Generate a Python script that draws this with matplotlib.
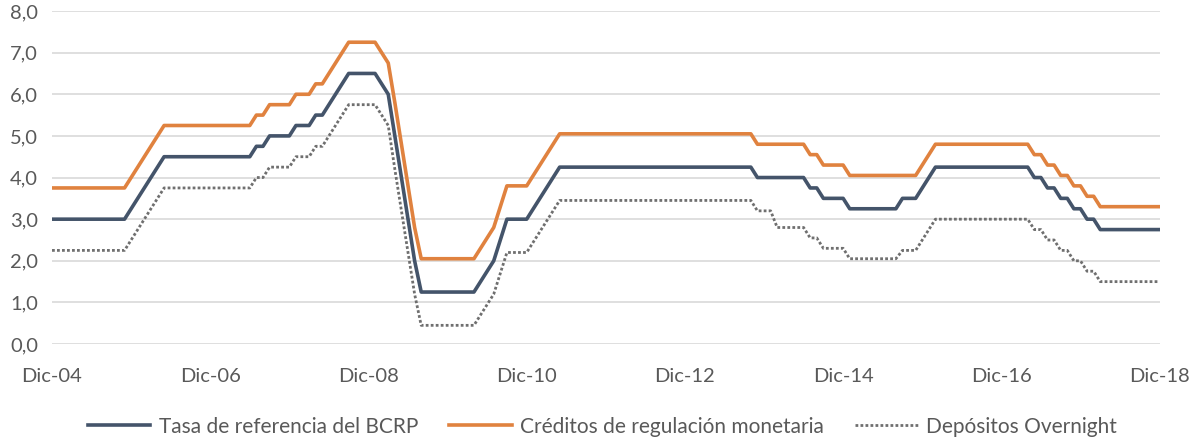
import numpy as np
import matplotlib.pyplot as plt

# monthly values, Dic-04 .. Dic-18 (one row per year)
tasa_bcrp = [3.0,
    3.0, 3.0, 3.0, 3.0, 3.0, 3.0, 3.0, 3.0, 3.0, 3.0, 3.0, 3.25,
    3.5, 3.75, 4.0, 4.25, 4.5, 4.5, 4.5, 4.5, 4.5, 4.5, 4.5, 4.5,
    4.5, 4.5, 4.5, 4.5, 4.5, 4.5, 4.75, 4.75, 5.0, 5.0, 5.0, 5.0,
    5.25, 5.25, 5.25, 5.5, 5.5, 5.75, 6.0, 6.25, 6.5, 6.5, 6.5, 6.5,
    6.5, 6.25, 6.0, 5.0, 4.0, 3.0, 2.0, 1.25, 1.25, 1.25, 1.25, 1.25,
    1.25, 1.25, 1.25, 1.25, 1.5, 1.75, 2.0, 2.5, 3.0, 3.0, 3.0, 3.0,
    3.25, 3.5, 3.75, 4.0, 4.25, 4.25, 4.25, 4.25, 4.25, 4.25, 4.25, 4.25,
    4.25, 4.25, 4.25, 4.25, 4.25, 4.25, 4.25, 4.25, 4.25, 4.25, 4.25, 4.25,
    4.25, 4.25, 4.25, 4.25, 4.25, 4.25, 4.25, 4.25, 4.25, 4.25, 4.0, 4.0,
    4.0, 4.0, 4.0, 4.0, 4.0, 4.0, 3.75, 3.75, 3.5, 3.5, 3.5, 3.5,
    3.25, 3.25, 3.25, 3.25, 3.25, 3.25, 3.25, 3.25, 3.5, 3.5, 3.5, 3.75,
    4.0, 4.25, 4.25, 4.25, 4.25, 4.25, 4.25, 4.25, 4.25, 4.25, 4.25, 4.25,
    4.25, 4.25, 4.25, 4.25, 4.0, 4.0, 3.75, 3.75, 3.5, 3.5, 3.25, 3.25,
    3.0, 3.0, 2.75, 2.75, 2.75, 2.75, 2.75, 2.75, 2.75, 2.75, 2.75, 2.75]

creditos = [3.75,
    3.75, 3.75, 3.75, 3.75, 3.75, 3.75, 3.75, 3.75, 3.75, 3.75, 3.75, 4.0,
    4.25, 4.5, 4.75, 5.0, 5.25, 5.25, 5.25, 5.25, 5.25, 5.25, 5.25, 5.25,
    5.25, 5.25, 5.25, 5.25, 5.25, 5.25, 5.5, 5.5, 5.75, 5.75, 5.75, 5.75,
    6.0, 6.0, 6.0, 6.25, 6.25, 6.5, 6.75, 7.0, 7.25, 7.25, 7.25, 7.25,
    7.25, 7.0, 6.75, 5.8, 4.8, 3.8, 2.8, 2.05, 2.05, 2.05, 2.05, 2.05,
    2.05, 2.05, 2.05, 2.05, 2.3, 2.55, 2.8, 3.3, 3.8, 3.8, 3.8, 3.8,
    4.05, 4.3, 4.55, 4.8, 5.05, 5.05, 5.05, 5.05, 5.05, 5.05, 5.05, 5.05,
    5.05, 5.05, 5.05, 5.05, 5.05, 5.05, 5.05, 5.05, 5.05, 5.05, 5.05, 5.05,
    5.05, 5.05, 5.05, 5.05, 5.05, 5.05, 5.05, 5.05, 5.05, 5.05, 4.8, 4.8,
    4.8, 4.8, 4.8, 4.8, 4.8, 4.8, 4.55, 4.55, 4.3, 4.3, 4.3, 4.3,
    4.05, 4.05, 4.05, 4.05, 4.05, 4.05, 4.05, 4.05, 4.05, 4.05, 4.05, 4.3,
    4.55, 4.8, 4.8, 4.8, 4.8, 4.8, 4.8, 4.8, 4.8, 4.8, 4.8, 4.8,
    4.8, 4.8, 4.8, 4.8, 4.55, 4.55, 4.3, 4.3, 4.05, 4.05, 3.8, 3.8,
    3.55, 3.55, 3.3, 3.3, 3.3, 3.3, 3.3, 3.3, 3.3, 3.3, 3.3, 3.3]

overnight = [2.25,
    2.25, 2.25, 2.25, 2.25, 2.25, 2.25, 2.25, 2.25, 2.25, 2.25, 2.25, 2.5,
    2.75, 3.0, 3.25, 3.5, 3.75, 3.75, 3.75, 3.75, 3.75, 3.75, 3.75, 3.75,
    3.75, 3.75, 3.75, 3.75, 3.75, 3.75, 4.0, 4.0, 4.25, 4.25, 4.25, 4.25,
    4.5, 4.5, 4.5, 4.75, 4.75, 5.0, 5.25, 5.5, 5.75, 5.75, 5.75, 5.75,
    5.75, 5.5, 5.25, 4.2, 3.2, 2.2, 1.2, 0.45, 0.45, 0.45, 0.45, 0.45,
    0.45, 0.45, 0.45, 0.45, 0.7, 0.95, 1.2, 1.7, 2.2, 2.2, 2.2, 2.2,
    2.45, 2.7, 2.95, 3.2, 3.45, 3.45, 3.45, 3.45, 3.45, 3.45, 3.45, 3.45,
    3.45, 3.45, 3.45, 3.45, 3.45, 3.45, 3.45, 3.45, 3.45, 3.45, 3.45, 3.45,
    3.45, 3.45, 3.45, 3.45, 3.45, 3.45, 3.45, 3.45, 3.45, 3.45, 3.2, 3.2,
    3.2, 2.8, 2.8, 2.8, 2.8, 2.8, 2.55, 2.55, 2.3, 2.3, 2.3, 2.3,
    2.05, 2.05, 2.05, 2.05, 2.05, 2.05, 2.05, 2.05, 2.25, 2.25, 2.25, 2.5,
    2.75, 3.0, 3.0, 3.0, 3.0, 3.0, 3.0, 3.0, 3.0, 3.0, 3.0, 3.0,
    3.0, 3.0, 3.0, 3.0, 2.75, 2.75, 2.5, 2.5, 2.25, 2.25, 2.0, 2.0,
    1.75, 1.75, 1.5, 1.5, 1.5, 1.5, 1.5, 1.5, 1.5, 1.5, 1.5, 1.5]

x_labels = ['Dic-04', 'Dic-06', 'Dic-08', 'Dic-10', 'Dic-12', 'Dic-14', 'Dic-16', 'Dic-18']
y_ticks = [0, 1, 2, 3, 4, 5, 6, 7, 8]

plt.rcParams['font.family'] = ['Lato', 'DejaVu Sans']
txt = '#595959'

fig = plt.figure(figsize=(11.93, 4.4), dpi=100)
ax = fig.add_axes([0.0436, 0.218, 0.9284, 0.757])

meses = np.arange(len(tasa_bcrp))
ax.plot(meses, tasa_bcrp, color='#44546A', lw=2.6, label='Tasa de referencia del BCRP')
ax.plot(meses, creditos, color='#E0823F', lw=2.6, label='Créditos de regulación monetaria')
ax.plot(meses, overnight, color='#6F6F6F', lw=2.0, ls=(0, (1, 0.8)), label='Depósitos Overnight')

ax.set_xlim(0, len(tasa_bcrp) - 1)
ax.set_ylim(0, 8)
ax.set_yticks(y_ticks)
ax.set_yticklabels([('%.1f' % v).replace('.', ',') for v in y_ticks])
ax.set_xticks(meses[::24])
ax.set_xticklabels(x_labels)
ax.grid(axis='y', color='#D9D9D9', lw=1.2)
ax.set_axisbelow(True)
for s in ax.spines.values():
    s.set_visible(False)
ax.tick_params(axis='both', length=0, colors=txt, labelsize=14.5)
ax.tick_params(axis='x', pad=17)
ax.tick_params(axis='y', pad=10)

fig.legend(loc='lower center', bbox_to_anchor=(0.505, -0.035), ncol=3, frameon=False,
           fontsize=15, handlelength=3.0, handletextpad=0.4, columnspacing=1.5,
           labelcolor=txt)

fig.savefig('out.png', dpi=100)
